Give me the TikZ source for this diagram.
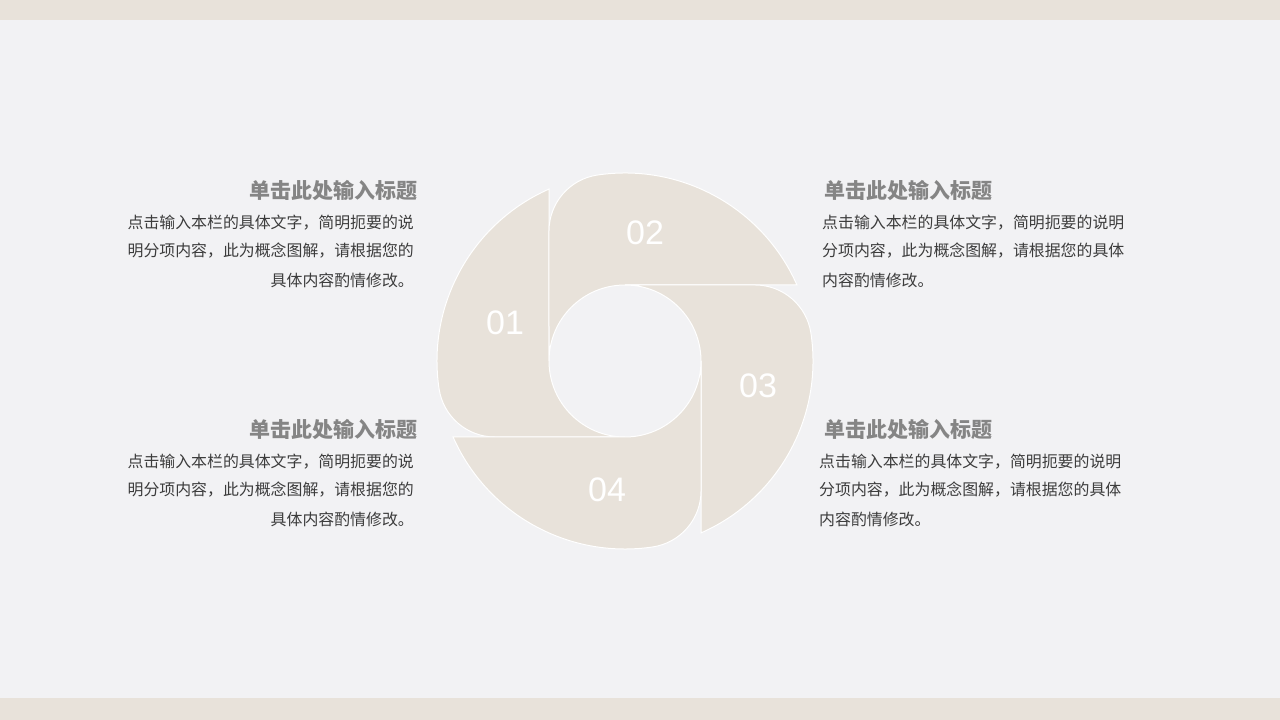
\documentclass[tikz,border=0pt]{standalone}
\usepackage{fontspec}
\setmainfont{Liberation Sans}
\newfontfamily\cjk{Noto Sans CJK SC}
\usetikzlibrary{calc}

\definecolor{pagebg}{HTML}{F2F2F4}
\definecolor{sand}{HTML}{E8E2DA}
\definecolor{titlegray}{HTML}{858585}
\definecolor{bodytext}{HTML}{3C3C3C}

\tikzset{
    petal/.style={fill=sand, draw=white, line width=1pt},
    num/.style={text=white, inner sep=0pt, font=\fontsize{34}{34}\selectfont},
    heading/.style={text=titlegray, inner sep=0pt, font=\cjk\bfseries\fontsize{21}{21}\selectfont},
    body/.style={text=bodytext, inner sep=0pt, font=\cjk\fontsize{15.9}{15.9}\selectfont},
}

\begin{document}
\begin{tikzpicture}[x=1pt, y=1pt]
    \fill[pagebg] (0,0) rectangle (1280,720);
    \fill[sand] (0,700) rectangle (1280,720);
    \fill[sand] (0,0) rectangle (1280,22);

    % four petals round the hole
    \begin{scope}[shift={(625,359)}]
        \draw[petal] (-76,0) -- (-76,171.95) arc[start angle=113.84, end angle=188.5, radius=188]
            arc[start angle=188.5, end angle=270, radius=56.6] -- (0,-76) arc[start angle=270, end angle=180, radius=76] -- cycle;
        \draw[petal, rotate=-90] (-76,0) -- (-76,171.95) arc[start angle=113.84, end angle=188.5, radius=188]
            arc[start angle=188.5, end angle=270, radius=56.6] -- (0,-76) arc[start angle=270, end angle=180, radius=76] -- cycle;
        \draw[petal, rotate=-180] (-76,0) -- (-76,171.95) arc[start angle=113.84, end angle=188.5, radius=188]
            arc[start angle=188.5, end angle=270, radius=56.6] -- (0,-76) arc[start angle=270, end angle=180, radius=76] -- cycle;
        \draw[petal, rotate=90] (-76,0) -- (-76,171.95) arc[start angle=113.84, end angle=188.5, radius=188]
            arc[start angle=188.5, end angle=270, radius=56.6] -- (0,-76) arc[start angle=270, end angle=180, radius=76] -- cycle;
    \end{scope}

    \node[num] (n1) at (505,397) {01};
    \node[num] (n2) at (645,487) {02};
    \node[num] (n3) at (758,334) {03};
    \node[num] (n4) at (607,230) {04};

    % left blocks
    \node[heading, anchor=east] (lt) at (418,529) {单击此处输入标题};
    \node[body, anchor=east] (lt1) at (414,497) {点击输入本栏的具体文字，简明扼要的说};
    \node[body, anchor=east] (lt2) at (414,469) {明分项内容，此为概念图解，请根据您的};
    \node[body, anchor=east] (lt3) at (414,440) {具体内容酌情修改。};

    \node[heading, anchor=east] (lb) at (418,290) {单击此处输入标题};
    \node[body, anchor=east] (lb1) at (414,258) {点击输入本栏的具体文字，简明扼要的说};
    \node[body, anchor=east] (lb2) at (414,230) {明分项内容，此为概念图解，请根据您的};
    \node[body, anchor=east] (lb3) at (414,201) {具体内容酌情修改。};

    % right blocks
    \node[heading, anchor=west] (rt) at (824,529) {单击此处输入标题};
    \node[body, anchor=west] (rt1) at (822,497) {点击输入本栏的具体文字，简明扼要的说明};
    \node[body, anchor=west] (rt2) at (822,469) {分项内容，此为概念图解，请根据您的具体};
    \node[body, anchor=west] (rt3) at (822,440) {内容酌情修改。};

    \node[heading, anchor=west] (rb) at (824,290) {单击此处输入标题};
    \node[body, anchor=west] (rb1) at (819,258) {点击输入本栏的具体文字，简明扼要的说明};
    \node[body, anchor=west] (rb2) at (819,230) {分项内容，此为概念图解，请根据您的具体};
    \node[body, anchor=west] (rb3) at (819,201) {内容酌情修改。};
\end{tikzpicture}
\end{document}
